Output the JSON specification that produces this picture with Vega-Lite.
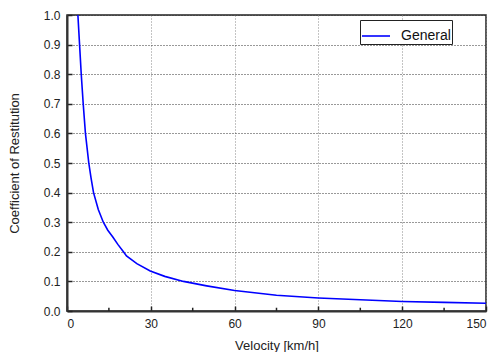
{
  "$schema": "https://vega.github.io/schema/vega-lite/v6.json",
  "autosize": "none",
  "width": 419,
  "height": 296,
  "padding": {"left": 67, "top": 15, "right": 10, "bottom": 41},
  "config": {
    "font": "Liberation Sans",
    "view": {"stroke": "#222", "strokeWidth": 1.5},
    "axis": {
      "labelFont": "Liberation Sans",
      "titleFont": "Liberation Sans",
      "labelFontSize": 12,
      "titleFontSize": 13,
      "titleFontWeight": "normal",
      "labelColor": "#222",
      "titleColor": "#222",
      "domainColor": "#333",
      "domainWidth": 2,
      "tickColor": "#222",
      "tickWidth": 1.5,
      "gridDash": [1, 2],
      "gridWidth": 1
    },
    "axisX": {"gridColor": "#888"},
    "axisY": {"gridColor": "#333"}
  },
  "datasets": {
    "curve": [
      {"v": 3.9, "c": 1.0, "series": "General"},
      {"v": 4.5, "c": 0.9, "series": "General"},
      {"v": 5.1, "c": 0.8, "series": "General"},
      {"v": 5.8, "c": 0.7, "series": "General"},
      {"v": 6.6, "c": 0.6, "series": "General"},
      {"v": 7.8, "c": 0.5, "series": "General"},
      {"v": 8.6, "c": 0.45, "series": "General"},
      {"v": 9.5, "c": 0.4, "series": "General"},
      {"v": 11.2, "c": 0.343, "series": "General"},
      {"v": 13.0, "c": 0.3, "series": "General"},
      {"v": 14.6, "c": 0.273, "series": "General"},
      {"v": 16.4, "c": 0.25, "series": "General"},
      {"v": 18.2, "c": 0.225, "series": "General"},
      {"v": 20.2, "c": 0.2, "series": "General"},
      {"v": 21.3, "c": 0.186, "series": "General"},
      {"v": 25, "c": 0.16, "series": "General"},
      {"v": 29.8, "c": 0.135, "series": "General"},
      {"v": 35, "c": 0.117, "series": "General"},
      {"v": 41.7, "c": 0.1, "series": "General"},
      {"v": 50, "c": 0.085, "series": "General"},
      {"v": 60, "c": 0.069, "series": "General"},
      {"v": 75, "c": 0.053, "series": "General"},
      {"v": 90, "c": 0.044, "series": "General"},
      {"v": 105, "c": 0.038, "series": "General"},
      {"v": 120, "c": 0.032, "series": "General"},
      {"v": 135, "c": 0.029, "series": "General"},
      {"v": 150, "c": 0.026, "series": "General"}
    ],
    "minor": [
      {"v": 15, "c": 0, "c2": 0.011},
      {"v": 45, "c": 0, "c2": 0.011},
      {"v": 75, "c": 0, "c2": 0.011},
      {"v": 105, "c": 0, "c2": 0.011},
      {"v": 135, "c": 0, "c2": 0.011}
    ]
  },
  "encoding": {
    "x": {
      "field": "v", "type": "quantitative",
      "scale": {"domain": [0, 150], "nice": false, "zero": false},
      "axis": {
        "title": "Velocity [km/h]",
        "values": [0, 30, 60, 90, 120, 150],
        "tickSize": -5,
        "labelPadding": 12,
        "titlePadding": 10
      }
    },
    "y": {
      "field": "c", "type": "quantitative",
      "scale": {"domain": [0, 1], "nice": false},
      "axis": {
        "title": "Coefficient of Restitution",
        "values": [0, 0.1, 0.2, 0.3, 0.4, 0.5, 0.6, 0.7, 0.8, 0.9, 1.0],
        "format": ".1f",
        "tickSize": -5,
        "labelPadding": 12,
        "titlePadding": 22
      }
    }
  },
  "layer": [
    {
      "data": {"name": "curve"},
      "mark": {"type": "line", "strokeWidth": 1.6, "clip": true},
      "encoding": {
        "color": {
          "field": "series", "type": "nominal",
          "scale": {"range": ["#0000ff"]},
          "legend": {
            "title": null,
            "orient": "none",
            "legendX": 293,
            "legendY": 5,
            "strokeColor": "#222",
            "fillColor": "white",
            "padding": 1,
            "symbolType": "stroke",
            "symbolSize": 784,
            "symbolStrokeWidth": 1.6,
            "labelFontSize": 14,
            "labelFont": "Liberation Sans",
            "labelColor": "#111",
            "labelOffset": 10
          }
        }
      }
    },
    {
      "data": {"name": "minor"},
      "mark": {"type": "rule", "color": "#222", "strokeWidth": 1.5},
      "encoding": {
        "y2": {"field": "c2"}
      }
    }
  ]
}
